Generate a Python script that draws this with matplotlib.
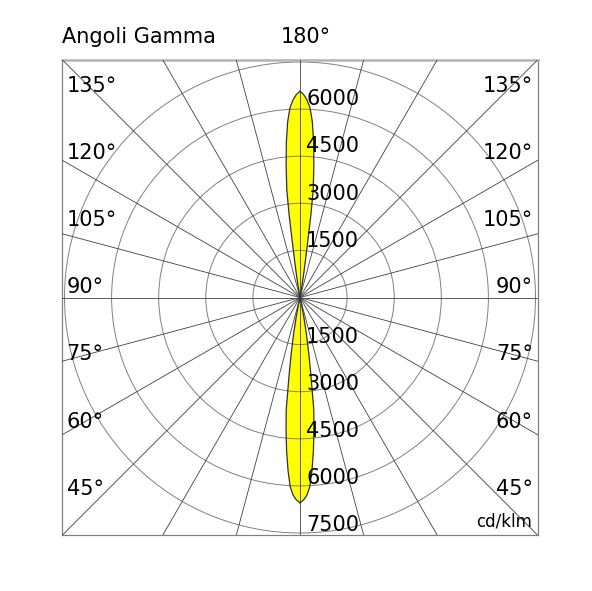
import numpy as np
import matplotlib
matplotlib.use("Agg")
import matplotlib.pyplot as plt
from matplotlib.patches import Circle

plt.rcParams['font.family'] = ['DejaVu Sans']

# ---- data ----
# luminous intensity (cd/klm) versus gamma angle (deg), plane C0-C180 (symmetric)
gamma_bottom = [0, 1, 2, 3, 4, 5, 6, 7, 8, 9, 10, 11, 12, 13]
intensity_bottom = [6540, 6450, 6300, 6020, 5500, 4900, 4250, 3600, 2500, 1750, 1160, 650, 250, 0]
gamma_top = [180, 179, 178, 177, 176, 175, 174, 173, 172.5, 172, 171.5, 171, 170.5, 170]
intensity_top = [6570, 6470, 6300, 6060, 5620, 4980, 4220, 3450, 2650, 1600, 1050, 650, 300, 0]

ring_values = [1500, 3000, 4500, 6000, 7500]
top_ring_labels = [1500, 3000, 4500, 6000]
bottom_ring_labels = [1500, 3000, 4500, 6000, 7500]
side_angle_labels = ["135°", "120°", "105°", "90°", "75°", "60°", "45°"]
radial_step = 15
title = "Angoli Gamma"
top_label = "180°"
unit_label = "cd/klm"

# ---- figure ----
W, H = 592, 591
fig = plt.figure(figsize=(W / 100, H / 100), dpi=100)

def fx(px):
    return px / W

def fy(py):
    return 1 - py / H

ax_l, ax_r, ax_t, ax_b = 62, 538, 60, 535
ax = fig.add_axes([fx(ax_l), fy(ax_b), (ax_r - ax_l) / W, (ax_b - ax_t) / H])
lim_x = 7580
lim_y = lim_x * (ax_b - ax_t) / (ax_r - ax_l)
ax.set_xlim(-lim_x, lim_x)
ax.set_ylim(-lim_y, lim_y)
ax.set_xticks([])
ax.set_yticks([])
for s in ['left', 'right', 'bottom']:
    ax.spines[s].set_color('#808080')
    ax.spines[s].set_linewidth(0.9)
ax.spines['top'].set_color('#b4b4b4')
ax.spines['top'].set_linewidth(1.8)

# lobes
def lobe_xy(gam, inten):
    g = np.radians(np.asarray(gam, dtype=float))
    I = np.asarray(inten, dtype=float)
    xr = I * np.sin(g)
    yr = -I * np.cos(g)
    x = np.concatenate([xr, -xr[::-1]])
    y = np.concatenate([yr, yr[::-1]])
    return x, y

for gam, inten in [(gamma_bottom, intensity_bottom), (gamma_top, intensity_top)]:
    x, y = lobe_xy(gam, inten)
    ax.fill(x, y, facecolor='#ffff00', edgecolor='none', zorder=1)
    ax.plot(np.append(x, x[0]), np.append(y, y[0]), color='#303030', lw=0.9, zorder=4)

# grid circles
for r in ring_values:
    ax.add_patch(Circle((0, 0), r, fill=False, edgecolor='#808080', lw=0.7, zorder=2))

# radial lines
L = 20000
for a in range(0, 360, radial_step):
    t = np.radians(a)
    ax.plot([0, L * np.sin(t)], [0, L * np.cos(t)], color='#404040', lw=0.6, zorder=3)

# ring labels
fs = 15
xoff = 6 * lim_x / ((ax_r - ax_l) / 2)
for v in top_ring_labels:
    ax.text(xoff, v + 120, str(v), fontsize=fs, ha='left', va='baseline', zorder=5)
for v in bottom_ring_labels:
    ax.text(xoff, -v + 60, str(v), fontsize=fs, ha='left', va='baseline', zorder=5)

# side angle labels
for k, lab in enumerate(side_angle_labels):
    base = 91.7 + 67.2 * k
    fig.text(fx(66.5), fy(base), lab, fontsize=fs, ha='left', va='baseline')
    fig.text(fx(533), fy(base), lab, fontsize=fs, ha='right', va='baseline')

fig.text(fx(62), fy(43.3), title, fontsize=15, ha='left', va='baseline')
fig.text(fx(281), fy(43.3), top_label, fontsize=fs, ha='left', va='baseline')
fig.text(fx(532), fy(526.7), unit_label, fontsize=12, ha='right', va='baseline')

fig.savefig("out.png", dpi=100)
